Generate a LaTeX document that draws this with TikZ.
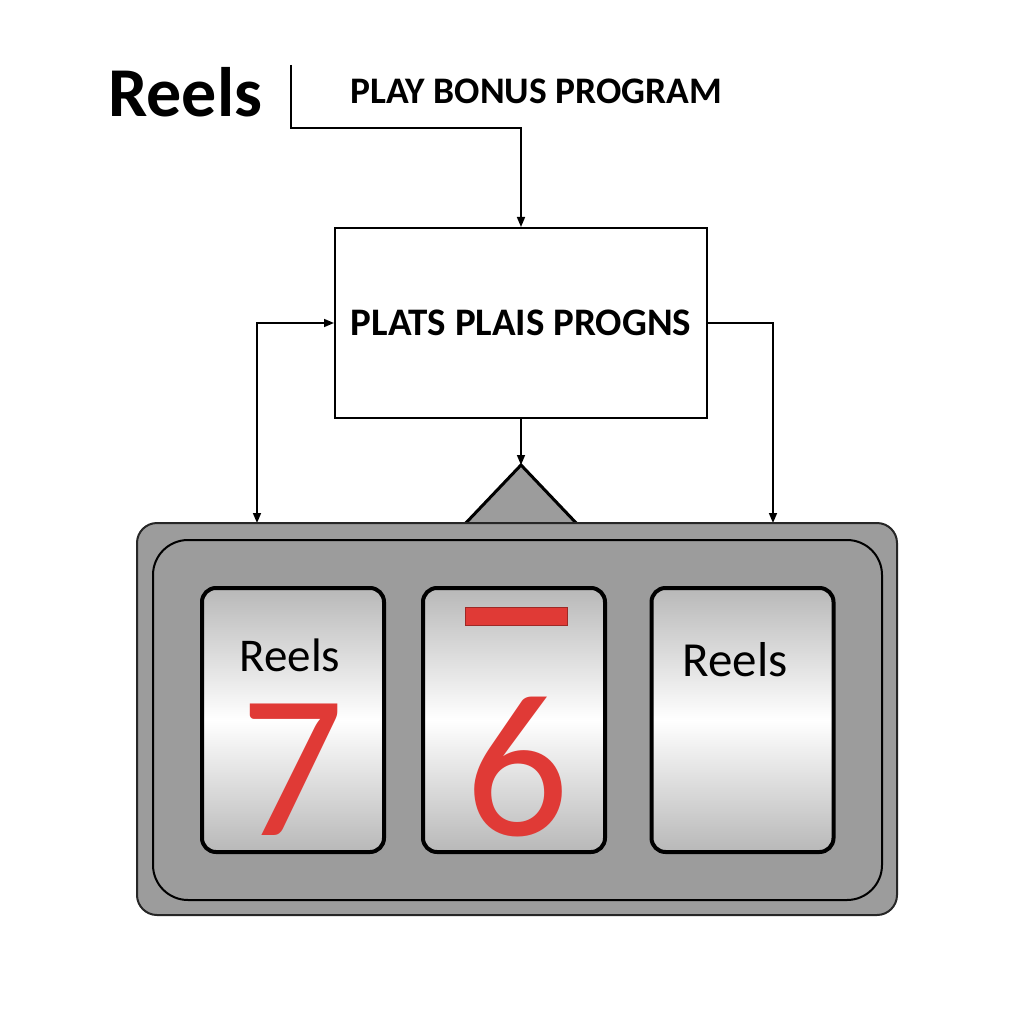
\documentclass[tikz,border=0pt]{standalone}
\usepackage{fontspec}
\setmainfont{Carlito}
\usetikzlibrary{arrows.meta}
\definecolor{framegray}{HTML}{9C9C9C}
\definecolor{reelgray}{HTML}{B8B8B8}
\definecolor{digitred}{HTML}{E03A36}
\begin{document}
\begin{tikzpicture}[x=1pt,y=-1pt,
  tip/.tip={Triangle[length=10pt,width=8pt]},
  conn/.style={line width=1.6pt, -tip},
  reel/.style={draw=black, line width=4pt, rounded corners=14pt, minimum width=182pt, minimum height=264pt, top color=reelgray, bottom color=reelgray, middle color=white, inner sep=0pt},
  reellabel/.style={font=\fontsize{47}{52}\selectfont, inner sep=0pt},
  digit/.style={font=\fontsize{205}{210}\selectfont, text=digitred, inner sep=0pt}]
\useasboundingbox (0,0) rectangle (1024,1024);
\fill[white] (0,0) rectangle (1024,1024);

% header
\node[font=\bfseries\fontsize{70}{80}\selectfont, anchor=base west, inner sep=0pt] (title) at (108,117) {Reels};
\node[font=\bfseries\fontsize{37.5}{44}\selectfont, anchor=base west, inner sep=0pt] (play) at (350,104) {PLAY BONUS PROGRAM};

% main box
\node[draw, line width=2pt, minimum width=372pt, minimum height=190pt, font=\bfseries\fontsize{39}{46}\selectfont] (box) at (521,323) {PLATS PLAIS PROGNS};

\coordinate (lstart) at (291,65);
\coordinate (bend) at (291,128);
\coordinate (fl) at (257,523);
\coordinate (fr) at (773,523);
\coordinate (apex) at (521,465);

\draw[conn] (lstart) -- (bend) -| (box.north);
\draw[line width=1.6pt, tip-tip] (box.west) -| (fl);
\draw[conn] (box.east) -| (fr);
\draw[conn] (box.south) -- (apex);

% triangle
\draw[fill=framegray, line width=3pt, line join=miter] (463,526) -- (apex) -- (579,526);

% frame
\node[draw=black!85, line width=2pt, fill=framegray, rounded corners=20pt, minimum width=760pt, minimum height=392pt] (frame) at (517,719) {};
\node[draw=black, line width=2pt, fill=framegray, rounded corners=35pt, minimum width=729pt, minimum height=360pt] (inner) at (517.5,720) {};

% reels
\node[reel] (reel1) at (293,720) {};
\node[reel] (reel2) at (514,720) {};
\node[reel] (reel3) at (742.5,720) {};

\node[reellabel] (lab1) at (290,655) {Reels};
\node[reellabel, font=\fontsize{49}{54}\selectfont] (lab3) at (735,660) {Reels};
\node[digit, anchor=base] (seven) at (292,835) {7};
\node[digit, anchor=base] (six) at (517,835) {6};
\node[fill=digitred, draw=digitred!70!black, line width=0.5pt, minimum width=102pt, minimum height=18pt, inner sep=0pt] (bar) at (516,616) {};
\end{tikzpicture}
\end{document}
